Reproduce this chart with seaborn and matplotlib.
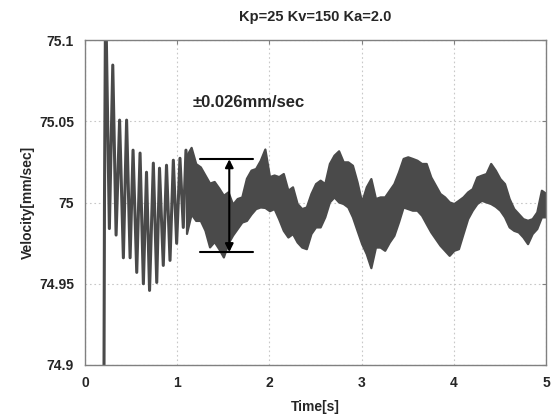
import numpy as np
import pandas as pd
import matplotlib
matplotlib.use("Agg")
import matplotlib.pyplot as plt
import seaborn as sns

# ---- data ----
# early decaying oscillation (peaks / troughs)
t_osc = [0.200, 0.210, 0.222, 0.263, 0.300, 0.336, 0.374, 0.415, 0.450, 0.488,
         0.520, 0.560, 0.596, 0.632, 0.666, 0.699, 0.740, 0.777, 0.807, 0.848,
         0.883, 0.921, 0.957, 0.993, 1.029, 1.065, 1.094, 1.138]
v_osc = [74.80, 75.00, 75.13, 74.984, 75.0847, 74.980, 75.0508, 74.966, 75.0508, 74.966,
         75.0323, 74.957, 75.0305, 74.950, 75.0187, 74.9459, 75.0243, 74.9508, 75.0212, 74.9613,
         75.023, 74.9644, 75.0261, 74.9749, 75.0273, 74.9847, 75.0323, 74.9909]

# noisy band after ~1.1 s : upper / lower envelope
t_band = [1.10, 1.15, 1.20, 1.25, 1.30, 1.35, 1.40, 1.45, 1.50, 1.55,
          1.60, 1.65, 1.70, 1.75, 1.80, 1.85, 1.90, 1.95, 2.00, 2.05,
          2.10, 2.15, 2.20, 2.25, 2.30, 2.35, 2.40, 2.45, 2.50, 2.55,
          2.60, 2.65, 2.70, 2.75, 2.80, 2.85, 2.90, 2.95, 3.00, 3.05,
          3.10, 3.15, 3.20, 3.25, 3.30, 3.35, 3.40, 3.45, 3.50, 3.55,
          3.60, 3.65, 3.70, 3.75, 3.80, 3.85, 3.90, 3.95, 4.00, 4.05,
          4.10, 4.15, 4.20, 4.25, 4.30, 4.35, 4.40, 4.45, 4.50, 4.55,
          4.60, 4.65, 4.70, 4.75, 4.80, 4.85, 4.90, 4.95, 5.00]
v_upper = [75.029, 75.034, 75.024, 75.022, 75.017, 75.012, 75.013, 75.009, 75.0045, 75.0066,
           74.999, 75.0025, 75.0035, 75.015, 75.020, 75.021, 75.026, 75.033, 75.016, 75.017,
           75.016, 75.0179, 75.0076, 75.0097, 74.9994, 74.9963, 74.9973, 75.0056, 75.0117, 75.0138,
           75.0117, 75.0241, 75.0292, 75.0319, 75.0251, 75.0251, 75.023, 75.0128, 75.0004, 75.0097,
           75.0148, 75.0025, 75.0035, 75.0035, 75.0076, 75.0117, 75.0189, 75.0272, 75.0282, 75.0272,
           75.0261, 75.0241, 75.0241, 75.0158, 75.0107, 75.0056, 75.0035, 75.0004, 74.9994, 75.0014,
           75.0035, 75.0066, 75.0086, 75.0158, 75.0169, 75.0179, 75.0241, 75.020, 75.0148, 75.0117,
           75.0025, 74.9963, 74.9932, 74.9901, 74.9891, 74.9901, 74.9942, 75.0076, 75.0056]
v_lower = [74.981, 74.993, 74.989, 74.989, 74.983, 74.9727, 74.976, 74.9716, 74.9665, 74.975,
           74.980, 74.984, 74.988, 74.989, 74.993, 74.9963, 74.9973, 74.997, 74.995, 74.9963,
           74.990, 74.9829, 74.9788, 74.9809, 74.9757, 74.9726, 74.9716, 74.9809, 74.985, 74.985,
           74.9912, 75.0004, 75.0035, 75.0004, 74.9994, 74.9973, 74.9912, 74.9829, 74.9747, 74.9685,
           74.9599, 74.9726, 74.9726, 74.9706, 74.9757, 74.9798, 74.9881, 74.9973, 74.9963, 74.9953,
           74.9953, 74.9922, 74.987, 74.9819, 74.9778, 74.9737, 74.9706, 74.9675, 74.9706, 74.9716,
           74.9809, 74.9901, 74.9953, 74.9994, 75.0014, 75.0004, 74.9994, 74.9977, 74.9953, 74.9912,
           74.985, 74.9829, 74.9819, 74.9788, 74.9747, 74.9809, 74.984, 74.9912, 74.9912]

# annotation
ann_t = [1.246, 1.823]
ann_lo, ann_hi = 74.9695, 75.0267
ann_x = 1.564
ann_text = "\u00b10.026mm/sec"
title = "Kp=25 Kv=150 Ka=2.0"
xticks = [0, 1, 2, 3, 4, 5]
yticks = [74.9, 74.95, 75.0, 75.05, 75.1]
ytick_labels = ["74.9", "74.95", "75", "75.05", "75.1"]

# ---- plotting ----
sns.set_style("white")
plt.rcParams['font.family'] = ['Liberation Sans', 'DejaVu Sans']
plt.rcParams['font.weight'] = 'bold'

fig = plt.figure(figsize=(5.6, 4.19), dpi=100)
ax = fig.add_axes([0.152, 0.129, 0.823, 0.775])

line_c = "#4a4a4a"
df_osc = pd.DataFrame({"t": t_osc, "v": v_osc})
sns.lineplot(data=df_osc, x="t", y="v", ax=ax, color=line_c, lw=2.2, sort=False)
ax.fill_between(t_band, v_lower, v_upper, color=line_c, lw=1.6, edgecolor=line_c)

# annotation
ax.plot(ann_t, [ann_hi, ann_hi], color="black", lw=1.5)
ax.plot(ann_t, [ann_lo, ann_lo], color="black", lw=1.5)
ax.annotate("", xy=(ann_x, ann_hi), xytext=(ann_x, ann_lo),
            arrowprops=dict(arrowstyle="<|-|>", color="black", lw=1.5,
                            mutation_scale=12, shrinkA=0, shrinkB=0))
ax.text(1.17, 75.0615, ann_text, fontsize=12, fontweight="bold", va="center", ha="left")

ax.set_xlim(0, 5)
ax.set_ylim(74.9, 75.1)
ax.set_xticks(xticks)
ax.set_yticks(yticks)
ax.set_yticklabels(ytick_labels)
ax.tick_params(axis="both", labelsize=10, direction="in", length=3, color="#808080",
               right=True, top=True, pad=8)
for lab in ax.get_xticklabels() + ax.get_yticklabels():
    lab.set_fontweight("bold")
ax.grid(True, ls=(0, (1.5, 2.5)), color="#c8c8c8", lw=0.8)
for s in ax.spines.values():
    s.set_color("#808080")
    s.set_linewidth(1.0)

ax.set_xlabel("Time[s]", fontsize=10, fontweight="bold", labelpad=7)
ax.set_ylabel("Velocity[mm/sec]", fontsize=10, fontweight="bold", labelpad=3)
ax.set_title(title, fontsize=10.5, fontweight="bold", pad=14)

fig.savefig("out.png", dpi=100)
